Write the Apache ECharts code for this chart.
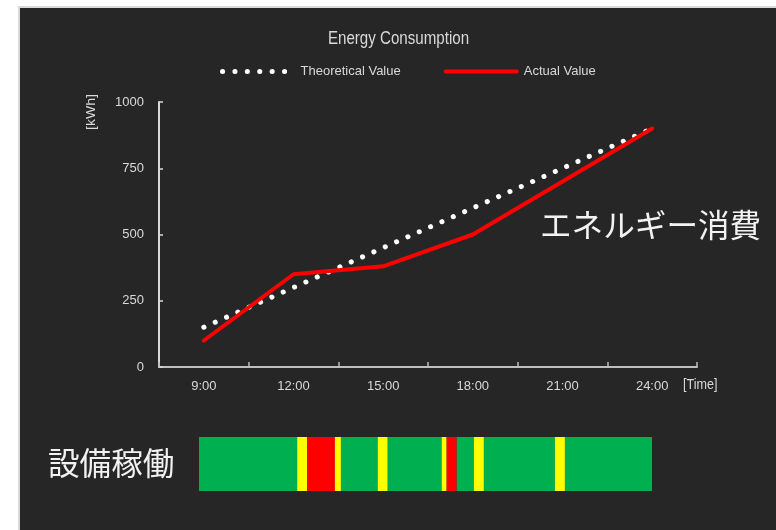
<!DOCTYPE html>
<html>
<head>
<meta charset="utf-8">
<script src="https://cdn.jsdelivr.net/npm/echarts@6/dist/echarts.min.js"></script>
<style>
  html, body { margin: 0; padding: 0; background: #ffffff; }
  #chart { width: 776px; height: 530px; }
</style>
</head>
<body>
<div id="chart"></div>
<script>
// ---- data ----
var categories = ['9:00', '12:00', '15:00', '18:00', '21:00', '24:00'];
var theoreticalValues = [150, 300, 450, 600, 750, 900];
var actualValues = [100, 350, 380, 500, 700, 900];
var yTicks = [0, 250, 500, 750, 1000];

// equipment operation status, minutes after 9:00 (0 = running, 1 = warning, 2 = stopped)
var statusStart = [0, 195, 215, 270, 282, 355, 375, 482, 492, 512, 546, 566, 707, 727];
var statusEnd   = [195, 215, 270, 282, 355, 375, 482, 492, 512, 546, 566, 707, 727, 900];
var statusCode  = [0, 1, 2, 1, 0, 1, 0, 1, 2, 0, 1, 0, 1, 0];
var statusColors = ['#00b050', '#ffff00', '#ff0000'];

var SANS = "'Liberation Sans', Arial, sans-serif";
var CJK = "'Noto Sans CJK JP', sans-serif";

var statusData = statusStart.map(function (s, i) { return [s, statusEnd[i], 0, statusCode[i]]; });

var chart = echarts.init(document.getElementById('chart'));
chart.setOption({
  backgroundColor: '#ffffff',
  animation: false,
  graphic: [
    { type: 'rect', z: -10, silent: true,
      shape: { x: 19, y: 7, width: 770, height: 540 },
      style: { fill: '#262626', stroke: '#d9d9d9', lineWidth: 2 } },
    { type: 'text', x: 398.5, y: 39.5, z: 10, scaleX: 0.84,
      style: { text: 'Energy Consumption', fill: '#d9d9d9', font: '18px ' + SANS, align: 'center', verticalAlign: 'middle' } },
    { type: 'text', x: 92, y: 112, rotation: Math.PI / 2, z: 10, scaleY: 0.85,
      style: { text: '[kWh]', fill: '#d9d9d9', font: '14px ' + SANS, align: 'center', verticalAlign: 'middle' } },
    { type: 'text', x: 683, y: 385, z: 10, scaleX: 0.84,
      style: { text: '[Time]', fill: '#d9d9d9', font: '15px ' + SANS, align: 'left', verticalAlign: 'middle' } },
    { type: 'text', x: 540, y: 225, z: 10,
      style: { text: 'エネルギー消費', fill: '#f2f2f2', font: '31.6px ' + CJK, align: 'left', verticalAlign: 'middle' } },
    { type: 'text', x: 48, y: 463, z: 10,
      style: { text: '設備稼働', fill: '#f2f2f2', font: '31.6px ' + CJK, align: 'left', verticalAlign: 'middle' } }
  ],
  legend: {
    left: 220, top: 65, padding: 0,
    itemWidth: 71, itemHeight: 14, itemGap: 43,
    data: ['Theoretical Value', 'Actual Value'],
    lineStyle: { width: 'inherit' },
    itemStyle: { opacity: 0 },
    textStyle: { color: '#d9d9d9', fontSize: 13, fontFamily: SANS, padding: [0, 0, 0, 2] }
  },
  grid: [
    { left: 159, right: 79, top: 102, bottom: 163 },
    { left: 199, width: 453, top: 437, height: 54 }
  ],
  xAxis: [
    { type: 'category', gridIndex: 0, data: categories, boundaryGap: true,
      axisLine: { lineStyle: { color: '#bfbfbf', width: 2 } },
      axisTick: { show: true, inside: true, length: 5, alignWithLabel: false, lineStyle: { color: '#bfbfbf', width: 1.5 } },
      axisLabel: { color: '#d9d9d9', fontSize: 13, fontFamily: SANS, margin: 13 },
      splitLine: { show: false } },
    { type: 'value', gridIndex: 1, min: 0, max: 900, show: false }
  ],
  yAxis: [
    { type: 'value', gridIndex: 0, min: yTicks[0], max: yTicks[yTicks.length - 1], interval: 250,
      axisLine: { show: true, lineStyle: { color: '#d9d9d9', width: 2 } },
      axisTick: { show: true, inside: true, length: 4, lineStyle: { color: '#d9d9d9', width: 1.5 } },
      axisLabel: { color: '#d9d9d9', fontSize: 13, fontFamily: SANS, margin: 15,
        formatter: function (v) { return String(v); } },
      splitLine: { show: false } },
    { type: 'category', gridIndex: 1, data: ['設備稼働'], show: false }
  ],
  series: [
    { name: 'Theoretical Value', type: 'line', xAxisIndex: 0, yAxisIndex: 0,
      data: theoreticalValues, symbol: 'none', z: 3,
      lineStyle: { color: '#ffffff', width: 5, type: [0.1, 12.3], cap: 'round' },
      itemStyle: { color: '#ffffff' } },
    { name: 'Actual Value', type: 'line', xAxisIndex: 0, yAxisIndex: 0,
      data: actualValues, symbol: 'none', z: 4,
      lineStyle: { color: '#ff0000', width: 4, cap: 'round', join: 'round' },
      itemStyle: { color: '#ff0000' } },
    { name: 'status', type: 'custom', xAxisIndex: 1, yAxisIndex: 1,
      data: statusData, encode: { x: [0, 1], y: 2 },
      renderItem: function (params, api) {
        var s = api.coord([api.value(0), api.value(2)]);
        var e = api.coord([api.value(1), api.value(2)]);
        var h = api.size([0, 1])[1];
        return { type: 'rect',
          shape: { x: s[0], y: s[1] - h / 2, width: e[0] - s[0], height: h },
          style: { fill: statusColors[api.value(3)] } };
      } }
  ]
});
</script>
</body>
</html>
